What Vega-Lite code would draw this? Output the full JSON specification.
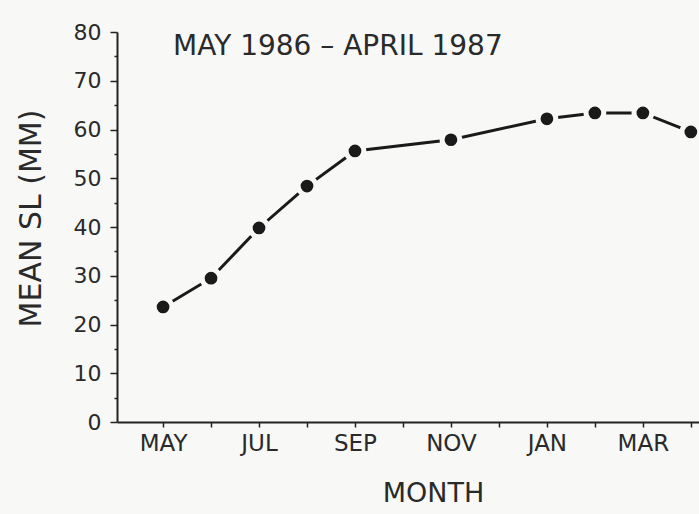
{
  "$schema": "https://vega.github.io/schema/vega-lite/v6.json",
  "autosize": "none",
  "width": 582,
  "height": 390,
  "padding": {"left": 117, "top": 32, "right": 0, "bottom": 92},
  "background": "#f8f8f6",
  "title": {
    "text": "MAY 1986 – APRIL 1987",
    "anchor": "start",
    "frame": "group",
    "orient": "top",
    "baseline": "top",
    "offset": 0,
    "dx": 56,
    "dy": 40,
    "font": "DejaVu Sans",
    "fontSize": 28,
    "fontWeight": "normal",
    "color": "#2a2a2a"
  },
  "config": {
    "view": {"stroke": null},
    "axis": {
      "labelFont": "DejaVu Sans",
      "titleFont": "DejaVu Sans",
      "labelColor": "#2a2a2a",
      "titleColor": "#2a2a2a",
      "domainColor": "#222",
      "tickColor": "#222",
      "grid": false,
      "titleFontWeight": "normal",
      "domainWidth": 2,
      "tickWidth": 1.5
    }
  },
  "data": {
    "values": [
      {"month": 5, "sl": 23.6},
      {"month": 6, "sl": 29.5},
      {"month": 7, "sl": 39.8},
      {"month": 8, "sl": 48.4},
      {"month": 9, "sl": 55.6},
      {"month": 11, "sl": 57.9},
      {"month": 13, "sl": 62.2},
      {"month": 14, "sl": 63.4},
      {"month": 15, "sl": 63.4},
      {"month": 16, "sl": 59.5}
    ]
  },
  "encoding": {
    "x": {
      "field": "month",
      "type": "quantitative",
      "scale": {"domain": [4.04, 16.17], "nice": false, "zero": false},
      "axis": {
        "title": "MONTH",
        "values": [5, 6, 7, 8, 9, 10, 11, 12, 13, 14, 15, 16],
        "labelExpr": "({5:'MAY',7:'JUL',9:'SEP',11:'NOV',13:'JAN',15:'MAR'})[datum.value] || ''",
        "labelFontSize": 23,
        "tickSize": 5,
        "labelPadding": 5,
        "titleFontSize": 27,
        "titlePadding": 25,
        "titleX": 316,
        "labelFlush": false
      }
    },
    "y": {
      "field": "sl",
      "type": "quantitative",
      "scale": {"domain": [0, 80], "nice": false},
      "axis": {
        "title": "MEAN SL (MM)",
        "values": [0, 5, 10, 15, 20, 25, 30, 35, 40, 45, 50, 55, 60, 65, 70, 75, 80],
        "labelExpr": "datum.value % 10 === 0 ? datum.label : ''",
        "tickSize": {"condition": {"test": "datum.value % 10 === 0", "value": 7}, "value": 3},
        "labelFontSize": 22,
        "labelPadding": 9,
        "titleFontSize": 30,
        "titlePadding": 27,
        "titleY": 186,
        "labelFlush": false
      }
    }
  },
  "layer": [
    {"mark": {"type": "line", "color": "#1a1a1a", "strokeWidth": 3}},
    {"mark": {"type": "point", "filled": true, "color": "#1a1a1a", "size": 314, "opacity": 1, "stroke": "#f8f8f6", "strokeWidth": 5, "strokeOpacity": 1}}
  ]
}
